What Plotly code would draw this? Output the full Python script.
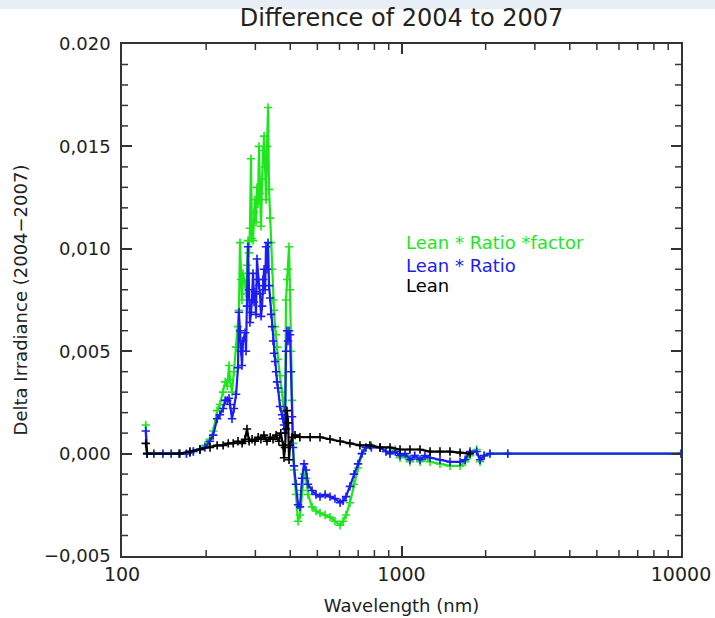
import plotly.graph_objects as go

# ---- data ----
wl_ratio = [121.6, 123, 130, 140, 150, 160, 170, 175, 180, 190, 198, 206, 212,
            219, 224, 230, 234, 238, 241.5, 243.5, 247.5, 251.5, 256, 260, 262,
            264.4, 266.5, 268.7, 271, 275.5, 277.8, 280, 282.4, 284.7, 287, 289.4,
            291.8, 294.3, 296.7, 299.2, 301.6, 304.1, 306.6, 309.2, 311.8, 314.4,
            317, 319.6, 322.3, 325, 327.6, 330.3, 333.1, 335.8, 338.6, 341.4,
            344.2, 347.1, 349.9, 352.8, 355.7, 358.7, 361.6, 367.6, 373.6, 376.7,
            379.8, 383, 386.2, 389.4, 392.6, 395.8, 399.1, 402.4, 405.8, 409.1,
            412.5, 419.3, 426.3, 433.4, 440.7, 448, 455.5, 463, 478.5, 494.6, 511,
            533, 555, 578, 603, 618, 633, 654, 676, 699, 722, 746, 780, 838, 880,
            910, 950, 988, 1030, 1072, 1115, 1165, 1213, 1265, 1373, 1491, 1620,
            1689, 1758, 1857, 1910, 1975, 2073, 2400, 10000]

lean_ratio_factor = [0.0014, 0.0, 0.0, 0.0, 0.0, 0.0, 0.0, 0.00005, 0.0001,
                     0.0002, 0.0004, 0.0007, 0.0011, 0.0021, 0.0024, 0.0030,
                     0.0035, 0.0033, 0.0043, 0.0036, 0.0030, 0.0040, 0.0052,
                     0.0062, 0.0070, 0.0103, 0.0085, 0.0075, 0.0088, 0.0083,
                     0.0078, 0.0092, 0.0104, 0.0098, 0.0110, 0.0144, 0.0105,
                     0.0104, 0.0118, 0.0124, 0.0113, 0.0130, 0.0122, 0.0150,
                     0.0127, 0.0111, 0.0134, 0.0148, 0.0155, 0.0140, 0.0124,
                     0.0150, 0.0169, 0.0129, 0.0115, 0.0103, 0.0090, 0.0075,
                     0.0070, 0.0062, 0.0058, 0.0052, 0.0046, 0.0038, 0.0030,
                     0.0026, 0.0022, 0.0017, 0.0075, 0.0085, 0.0090, 0.0101,
                     0.0080, 0.0050, 0.0026, 0.0005, -0.0008, -0.0020, -0.0033,
                     -0.0030, -0.0018, -0.0010, -0.0012, -0.0020, -0.0026,
                     -0.0028, -0.0029, -0.0030, -0.0031, -0.0033, -0.0035,
                     -0.0033, -0.0030, -0.0024, -0.0015, -0.0007, 0.0, 0.0003,
                     0.0004, 0.0003, 0.0001, 0.0, 0.0002, -0.0002, -0.0001,
                     -0.0004, -0.0001, -0.0004, -0.0002, -0.0004, -0.0005,
                     -0.0006, -0.0006, -0.0004, -0.0001, 0.0002, -0.0004,
                     -0.0001, 0.0, 0.0, 0.0]

lean_ratio = [0.0011, 0.0, 0.0, 0.0, 0.0, 0.0, 0.0, 0.00005, 0.0001, 0.0002,
              0.0003, 0.0006, 0.0009, 0.0017, 0.0019, 0.0022, 0.0026, 0.0026,
              0.0027, 0.0024, 0.0017, 0.0022, 0.0029, 0.0042, 0.0069, 0.0060,
              0.0050, 0.0043, 0.0055, 0.0059, 0.0050, 0.0072, 0.0101, 0.0080,
              0.0064, 0.0069, 0.0075, 0.0088, 0.0074, 0.0079, 0.0068, 0.0095,
              0.0085, 0.0082, 0.0078, 0.0067, 0.0072, 0.0085, 0.0090, 0.0080,
              0.0101, 0.0090, 0.0103, 0.0082, 0.0076, 0.0068, 0.0062, 0.0055,
              0.0049, 0.0045, 0.0040, 0.0035, 0.0032, 0.0023, 0.0019, 0.0017,
              0.0014, 0.0010, 0.0050, 0.0060, 0.0055, 0.0060, 0.0058, 0.0040,
              0.0018, 0.0003, -0.0006, -0.0015, -0.0025, -0.0026, -0.0012,
              -0.0005, -0.0008, -0.0015, -0.0018, -0.0020, -0.0021, -0.0020,
              -0.0021, -0.0022, -0.0024, -0.0023, -0.0021, -0.0016, -0.0010,
              -0.0005, 0.0, 0.0003, 0.0003, 0.0003, 0.0001, 0.0, 0.0001,
              -0.0001, 0.0, -0.0003, -0.0001, -0.0003, -0.0001, -0.0002,
              -0.0003, -0.0004, -0.0004, -0.0003, 0.0001, 0.0001, -0.0003,
              -0.0001, 0.0, 0.0, 0.0]

wl_lean = [121.6, 123, 161, 175, 190, 206.5, 219, 230, 240, 250, 260, 269, 275.5,
           280, 285, 292, 299, 307, 314, 322, 330, 339, 347, 356, 364, 370, 377,
           380, 383, 386, 389, 393, 396, 399, 406, 416, 433, 471, 511, 555, 603,
           654, 710, 771, 838, 910, 988, 1072, 1165, 1265, 1373, 1491, 1620, 1758]

lean = [0.0005, 0.0, 0.0, 0.0001, 0.0002, 0.0003, 0.0004, 0.0004, 0.0005,
        0.0005, 0.0006, 0.0005, 0.0007, 0.0012, 0.0006, 0.0007, 0.0006, 0.0008,
        0.0007, 0.0009, 0.0006, 0.0008, 0.0007, 0.0009, 0.0006, 0.0010, 0.0004,
        -0.0002, 0.0003, 0.0012, 0.0021, 0.0015, -0.0003, 0.0004, 0.0008,
        0.0009, 0.0008, 0.0008, 0.0008, 0.0007, 0.0006, 0.0005, 0.0004, 0.0004,
        0.0003, 0.0003, 0.0002, 0.0002, 0.0002, 0.0001, 0.0001, 0.0001, 0.00005,
        0.0]

x_range = [100, 10000]
y_range = [-0.005, 0.020]
y_tick_vals = [-0.005, 0.0, 0.005, 0.010, 0.015, 0.020]
y_tick_text = ["\u22120,005", "0,000", "0,005", "0,010", "0,015", "0.020"]
y_minor_vals = [-0.004, -0.003, -0.002, -0.001, 0.001, 0.002, 0.003, 0.004,
                0.006, 0.007, 0.008, 0.009, 0.011, 0.012, 0.013, 0.014,
                0.016, 0.017, 0.018, 0.019]
x_tick_vals = [100, 1000, 10000]
x_tick_text = ["100", "1000", "10000"]
x_minor_vals = [200, 300, 400, 500, 600, 700, 800, 900,
                2000, 3000, 4000, 5000, 6000, 7000, 8000, 9000]

legend_labels = ["Lean * Ratio *factor", "Lean * Ratio", "Lean"]

GREEN = "#1ee61e"
BLUE = "#1c1cf5"
BLACK = "#000000"
FONT = "DejaVu Sans"
TXT = "#222222"
AX = "#333333"
MINOR_PX = 6

fig = go.Figure()


def add_series(x, y, color):
    fig.add_trace(go.Scatter(
        x=x, y=y, mode="lines+markers",
        line=dict(color=color, width=2.2),
        marker=dict(symbol="cross-thin", size=6, line=dict(color=color, width=1.6)),
        showlegend=False, hoverinfo="skip"))


add_series(wl_ratio, lean_ratio_factor, GREEN)
add_series(wl_ratio, lean_ratio, BLUE)
add_series(wl_lean, lean, BLACK)

# minor ticks (inside, on all four sides), built from the minor tick arrays.
# plot area is about 559 px wide (2 decades) and 512 px tall
dy = (y_range[1] - y_range[0]) * MINOR_PX / 512
fx = 10 ** (2 * MINOR_PX / 559)
tx, ty = [], []
for v in x_minor_vals:
    tx += [v, v, None, v, v, None]
    ty += [y_range[0], y_range[0] + dy, None, y_range[1], y_range[1] - dy, None]
for v in y_minor_vals:
    tx += [x_range[0], x_range[0] * fx, None, x_range[1], x_range[1] / fx, None]
    ty += [v, v, None, v, v, None]
fig.add_trace(go.Scatter(x=tx, y=ty, mode="lines", line=dict(color=AX, width=1.5),
                         showlegend=False, hoverinfo="skip"))

fig.update_layout(
    width=715, height=618,
    margin=dict(l=122, r=34, t=44, b=62),
    paper_bgcolor="white", plot_bgcolor="white",
    font=dict(family=FONT, color=TXT),
    title=dict(text="Difference of 2004 to 2007", x=0.5615, xanchor="center",
               y=0.971, yanchor="middle", font=dict(size=24, color=TXT)),
    xaxis=dict(
        type="log", range=[2, 4], automargin=False,
        tickmode="array", tickvals=x_tick_vals, ticktext=x_tick_text,
        ticks="inside", ticklen=10, tickwidth=1.6, tickcolor=AX,
        showline=True, linecolor=AX, linewidth=1.6, mirror="ticks",
        showgrid=False, zeroline=False,
        tickfont=dict(size=19, color=TXT),
        title=dict(text="Wavelength (nm)", font=dict(size=18, color=TXT), standoff=16),
    ),
    yaxis=dict(
        range=y_range, automargin=False,
        tickmode="array", tickvals=y_tick_vals, ticktext=y_tick_text,
        ticks="inside", ticklen=10, tickwidth=1.6, tickcolor=AX,
        showline=True, linecolor=AX, linewidth=1.6, mirror="ticks",
        showgrid=False, zeroline=False,
        tickfont=dict(size=18, color=TXT),
        ticklabelstandoff=6,
        title=dict(text="Delta Irradiance (2004\u22122007)",
                   font=dict(size=18, color=TXT), standoff=12),
    ),
)

legend_colors = [GREEN, BLUE, BLACK]
legend_y = [0.613, 0.568, 0.529]
for lab, col, yy in zip(legend_labels, legend_colors, legend_y):
    fig.add_annotation(text=lab, xref="paper", yref="paper", x=0.505, y=yy,
                       xanchor="left", yanchor="middle", showarrow=False,
                       font=dict(size=18, color=col, family=FONT))

# light frame strip at the top of the screenshot
fig.add_shape(type="rect", xref="paper", yref="paper",
              x0=-0.25, x1=1.1, y0=1.068, y1=1.1, fillcolor="#e8eef5",
              line=dict(width=0), layer="below")

fig.write_html("out.html")
